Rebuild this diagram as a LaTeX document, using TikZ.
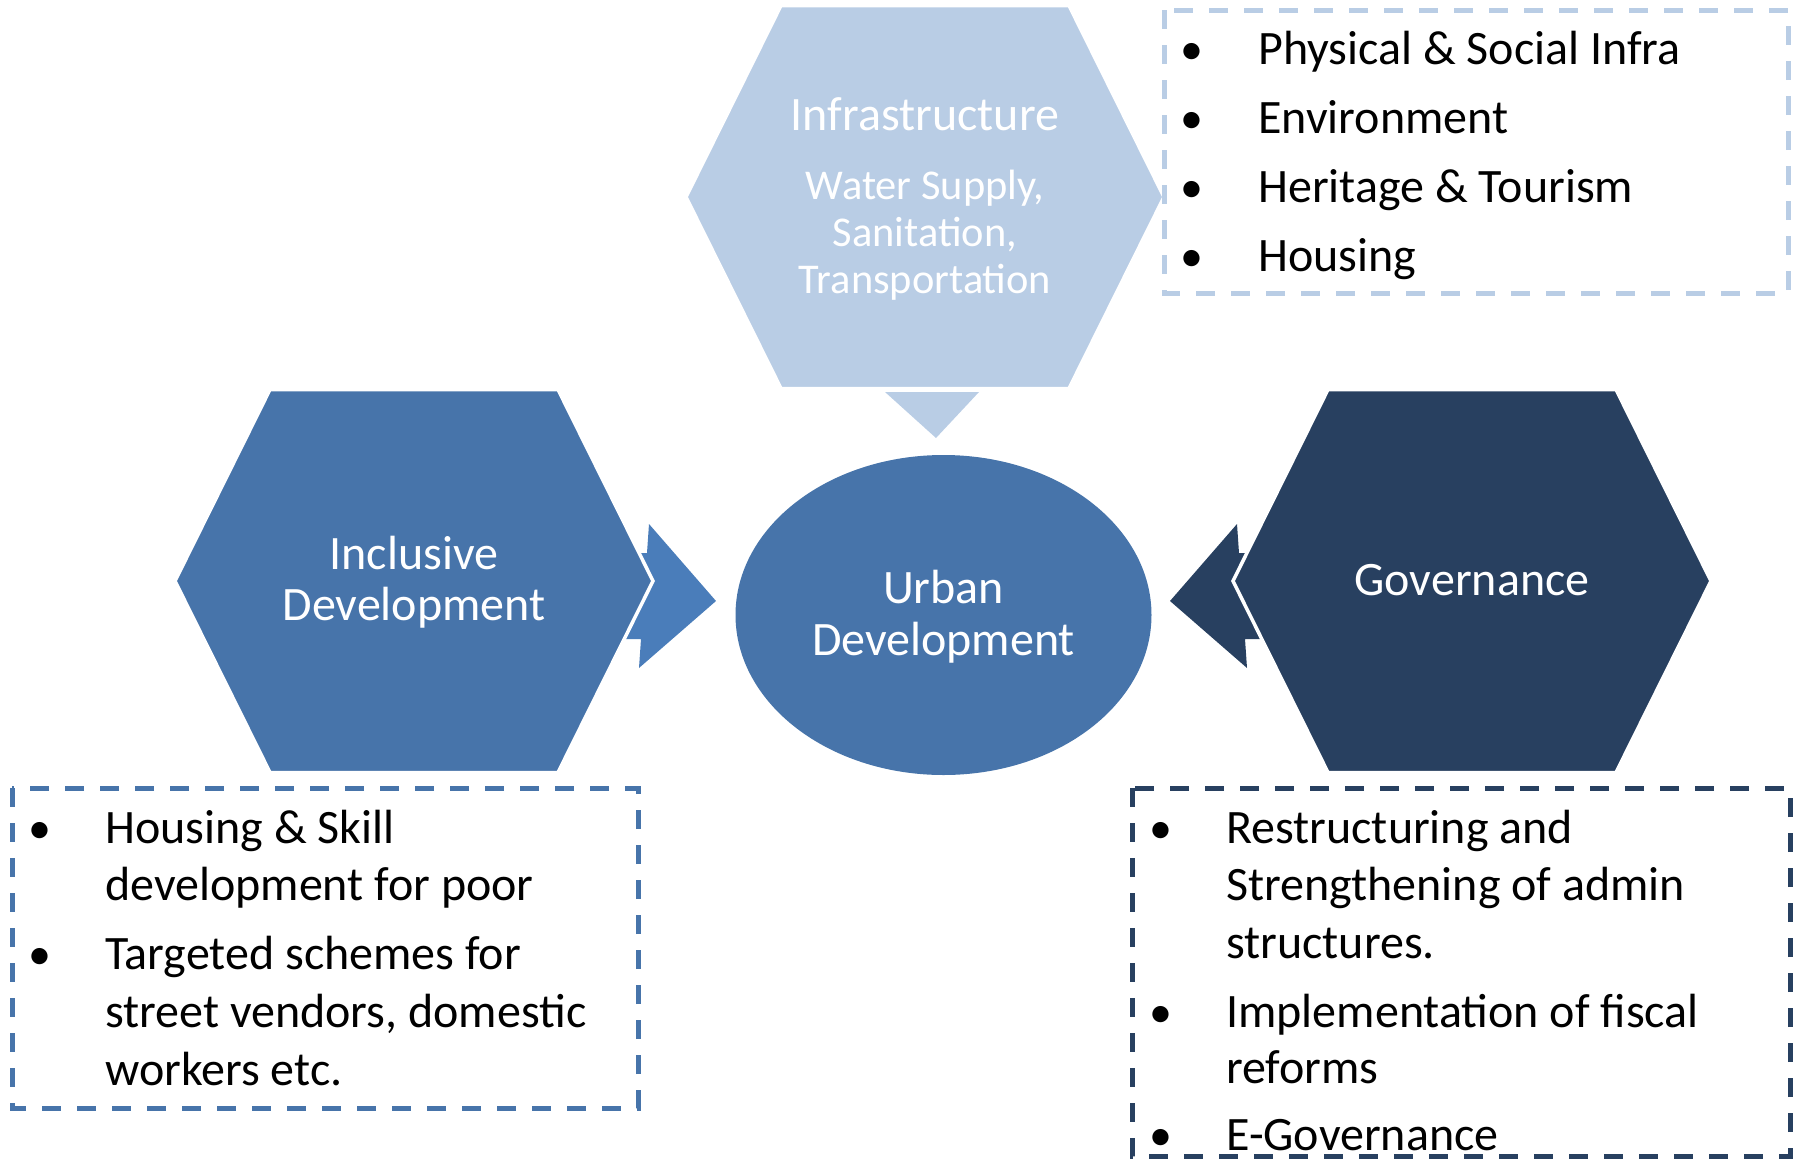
\documentclass[tikz,border=0pt]{standalone}
\usepackage{fontspec}
\setmainfont{Carlito}
\usetikzlibrary{shapes.geometric}
\definecolor{lightblue}{HTML}{B9CDE5}
\definecolor{midblue}{HTML}{4774AA}
\definecolor{arrowblue}{HTML}{4A7DBA}
\definecolor{darkblue}{HTML}{284060}
\begin{document}
\begin{tikzpicture}[x=1pt,y=-1pt,
  hexa/.style={draw=white, line width=3.5pt, line join=miter},
  big/.style={font=\fontsize{48}{52}\selectfont, text=white, inner sep=0pt, anchor=base},
  sub/.style={font=\fontsize{42.4}{47}\selectfont, text=white, inner sep=0pt, anchor=base},
  item/.style={font=\fontsize{48}{57}\selectfont, text=black, inner sep=0pt, anchor=base west},
  bul/.style={font=\fontsize{46}{57}\selectfont, text=black, inner sep=0pt, anchor=base},
  dbox/.style={dash pattern=on 19pt off 16pt, line width=5pt}
]
\useasboundingbox (0,0) rectangle (1800,1160);

% arrows into the centre
\fill[arrowblue] (649,524) -- (716,601) -- (639,668) -- (641,639) -- (615,639) -- (600,581) -- (630,553) -- (647,553) -- cycle;
\fill[darkblue] (1237,524) -- (1170,601) -- (1247,668) -- (1245,639) -- (1271,639) -- (1286,581) -- (1256,553) -- (1239,553) -- cycle;
\fill[lightblue] (885,392) -- (979,392) -- (936,438) -- cycle;

% hexagons
\filldraw[fill=lightblue, hexa, shift={(925,197)}] (-239,0) -- (-144,-191.5) -- (144,-191.5) -- (239,0) -- (144,191.5) -- (-144,191.5) -- cycle;
\filldraw[fill=midblue, hexa, shift={(414,581)}] (-239,0) -- (-144,-191.5) -- (144,-191.5) -- (239,0) -- (144,191.5) -- (-144,191.5) -- cycle;
\filldraw[fill=darkblue, hexa, shift={(1472,581)}] (-239,0) -- (-144,-191.5) -- (144,-191.5) -- (239,0) -- (144,191.5) -- (-144,191.5) -- cycle;

% centre ellipse
\node[ellipse, fill=midblue, minimum width=416pt, minimum height=320pt, inner sep=0pt] (urban) at (943.5,615) {};

% hexagon / ellipse texts
\node[big] (infra) at (925,130) {Infrastructure};
\node[sub] (infra1) at (925,199) {Water Supply,};
\node[sub] (infra2) at (925,246) {Sanitation,};
\node[sub] (infra3) at (925,293) {Transportation};
\node[big] (incl1) at (414,569) {Inclusive};
\node[big] (incl2) at (414,620) {Development};
\node[big] (gov) at (1472,595) {Governance};
\node[big] (urb1) at (943.5,603) {Urban};
\node[big] (urb2) at (943.5,655) {Development};

% top-right list
\node[bul] (tb1) at (1192,64) {•};
\node[item] (tt1) at (1258,64) {Physical \& Social Infra};
\node[bul] (tb2) at (1192,133) {•};
\node[item] (tt2) at (1258,133) {Environment};
\node[bul] (tb3) at (1192,202) {•};
\node[item] (tt3) at (1258,202) {Heritage \& Tourism};
\node[bul] (tb4) at (1192,271) {•};
\node[item] (tt4) at (1258,271) {Housing};
\draw[lightblue, dbox] (1164,10) rectangle (1788,293);

% bottom-left list
\node[bul] (lb1) at (40,843) {•};
\node[item] (lt1) at (105,843) {Housing \& Skill};
\node[item] (lt2) at (105,900) {development for poor};
\node[bul] (lb2) at (40,969) {•};
\node[item] (lt3) at (105,969) {Targeted schemes for};
\node[item] (lt4) at (105,1027) {street vendors, domestic};
\node[item] (lt5) at (105,1085) {workers etc.};
\draw[midblue, dbox] (12,788) rectangle (638,1108);

% bottom-right list
\node[bul] (rb1) at (1161,843) {•};
\node[item] (rt1) at (1226,843) {Restructuring and};
\node[item] (rt2) at (1226,900) {Strengthening of admin};
\node[item] (rt3) at (1226,958) {structures.};
\node[bul] (rb2) at (1161,1027) {•};
\node[item] (rt4) at (1226,1027) {Implementation of fiscal};
\node[item] (rt5) at (1226,1083) {reforms};
\node[bul] (rb3) at (1161,1150) {•};
\node[item] (rt6) at (1226,1150) {E-Governance};
\draw[darkblue, dbox] (1132,788) rectangle (1790,1156);
\end{tikzpicture}
\end{document}
